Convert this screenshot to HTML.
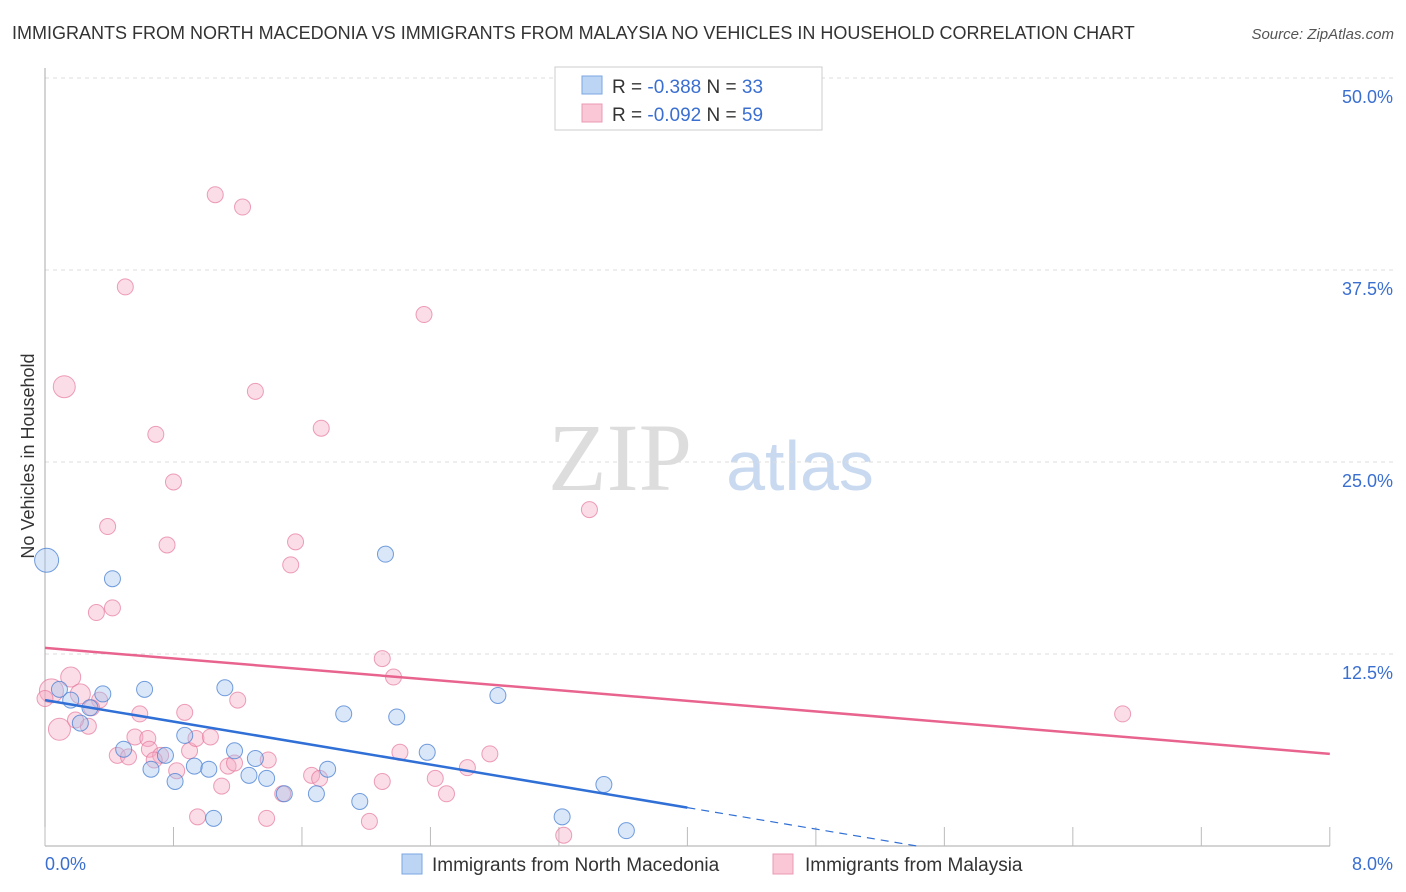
<!DOCTYPE html>
<html><head><meta charset="utf-8"><style>
body{margin:0;background:#fff;font-family:"Liberation Sans",sans-serif;}
svg{display:block}
</style></head><body>
<svg id="c" width="1406" height="892">
<text x="12" y="39" font-size="18" fill="#333">IMMIGRANTS FROM NORTH MACEDONIA VS IMMIGRANTS FROM MALAYSIA NO VEHICLES IN HOUSEHOLD CORRELATION CHART</text>
<text x="1394" y="39" font-size="15" fill="#555" font-style="italic" text-anchor="end">Source: ZipAtlas.com</text>
<text x="620" y="490" font-size="96" fill="#ddd" font-family="Liberation Serif,serif" text-anchor="middle">ZIP</text>
<text x="800" y="490" font-size="70" fill="#c9daf0" text-anchor="middle">atlas</text>
<text transform="translate(34,456) rotate(-90)" font-size="18" fill="#333" text-anchor="middle">No Vehicles in Household</text>
<g id="grid"></g><g id="pts"></g><g id="lines"></g>
<g>
<rect x="555" y="67" width="267" height="63" fill="#fff" stroke="#ccc"/>
<rect x="582" y="76" width="20" height="18" fill="#bcd5f5" stroke="#7aa6e0"/>
<rect x="582" y="104" width="20" height="18" fill="#f9c7d6" stroke="#eb9ab3"/>
<text x="612" y="93" font-size="19" fill="#333">R = <tspan fill="#3a6fd0">-0.388</tspan>   N = <tspan fill="#3a6fd0">33</tspan></text>
<text x="612" y="121" font-size="19" fill="#333">R = <tspan fill="#3a6fd0">-0.092</tspan>   N = <tspan fill="#3a6fd0">59</tspan></text>
</g>
<g>
<rect x="402" y="854" width="20" height="20" fill="#bcd5f5" stroke="#7aa6e0"/>
<text x="432" y="871" font-size="19" fill="#333">Immigrants from North Macedonia</text>
<rect x="773" y="854" width="20" height="20" fill="#f9c7d6" stroke="#eb9ab3"/>
<text x="805" y="871" font-size="19" fill="#333">Immigrants from Malaysia</text>
</g>
</svg>
<script>
const yTicks=[12.5,25,37.5,50];
const xLabels=["0.0%","8.0%"];
const blueX=[0.01,0.42,0.09,0.16,0.22,0.28,0.36,0.49,0.62,0.66,0.75,0.81,0.87,0.93,1.02,1.05,1.12,1.18,1.27,1.31,1.38,1.49,1.69,1.76,1.86,1.96,2.12,2.19,2.38,2.82,3.22,3.48,3.62];
const blueY=[18.6,17.4,10.2,9.5,8.0,9.0,9.9,6.3,10.2,5.0,5.9,4.2,7.2,5.2,5.0,1.8,10.3,6.2,4.6,5.7,4.4,3.4,3.4,5.0,8.6,2.9,19.0,8.4,6.1,9.8,1.9,4.0,1.0];
const blueR=[12,8,8,8,8,8,8,8,8,8,8,8,8,8,8,8,8,8,8,8,8,8,8,8,8,8,8,8,8,8,8,8,8];
const pinkX=[1.06,1.23,0.50,2.36,0.12,1.31,0.69,1.72,0.80,0.39,3.39,0.76,1.56,1.53,0.42,0.32,0.16,0.04,0.22,0.09,0.34,0.29,0.59,0.87,1.20,2.10,2.17,6.71,0.45,0.52,0.56,0.64,0.65,0.72,0.82,0.90,0.94,1.03,1.10,1.14,1.18,0.00,0.95,1.39,1.38,1.48,1.66,1.71,2.02,2.10,2.21,2.43,2.50,2.63,2.77,3.23,0.27,0.19,0.68];
const pinkY=[42.4,41.6,36.4,34.6,29.9,29.6,26.8,27.2,23.7,20.8,21.9,19.6,19.8,18.3,15.5,15.2,11.0,10.1,9.9,7.6,9.5,9.0,8.6,8.7,9.5,12.2,11.0,8.6,5.9,5.8,7.1,7.0,6.3,5.9,4.9,6.2,7.0,7.1,3.9,5.2,5.4,9.6,1.9,5.6,1.8,3.4,4.6,4.4,1.6,4.2,6.1,4.4,3.4,5.1,6.0,0.7,7.8,8.2,5.6];
const pinkR=[8,8,8,8,11,8,8,8,8,8,8,8,8,8,8,8,10,12,10,11,8,8,8,8,8,8,8,8,8,8,8,8,8,8,8,8,8,8,8,8,8,8,8,8,8,8,8,8,8,8,8,8,8,8,8,8,8,8,8];
const blueFit=[9.5,2.5]; // at x=0 and x=4.0
const pinkFit=[12.9,6.0]; // at x=0 and x=8.0
const NS="http://www.w3.org/2000/svg";
const X=v=>45+v*160.6, Y=v=>846-v*15.36;
function mk(t,a,p){const e=document.createElementNS(NS,t);for(const k in a)e.setAttribute(k,a[k]);p.appendChild(e);return e;}
const g=document.getElementById('grid');
for(const t of yTicks){
 const gl=mk('line',{x1:45,x2:1394,y1:Y(t),y2:Y(t),stroke:'#ddd','stroke-dasharray':'4,4'},g);
 
 
 const tx=mk('text',{x:1393,y:Y(t)+25,'font-size':18,fill:'#3a6fd0','text-anchor':'end'},g);tx.textContent=t.toFixed(1)+'%';
 
 
}
mk('line',{x1:45,x2:45,y1:68,y2:846,stroke:'#aaa'},g);
mk('line',{x1:45,x2:1330,y1:846,y2:846,stroke:'#aaa'},g);
for(let i=0;i<=10;i++){const tk=mk('line',{x1:X(i*0.8),x2:X(i*0.8),y1:827,y2:846,stroke:'#bbb'},g);
 
 }
const l0=mk('text',{x:45,y:870,'font-size':18,fill:'#3a6fd0'},g);l0.textContent=xLabels[0];


const l1=mk('text',{x:1393,y:870,'font-size':18,fill:'#3a6fd0','text-anchor':'end'},g);l1.textContent=xLabels[1];


const p=document.getElementById('pts');
pinkX.forEach((x,i)=>{const c=mk('circle',{cx:X(x),cy:Y(pinkY[i]),r:pinkR[i],fill:'rgba(246,170,195,0.4)',stroke:'rgba(230,120,155,0.7)','stroke-width':1},p);
 
 });
blueX.forEach((x,i)=>{const c=mk('circle',{cx:X(x),cy:Y(blueY[i]),r:blueR[i],fill:'rgba(160,195,240,0.4)',stroke:'rgba(70,125,210,0.75)','stroke-width':1},p);
 
 });
const L=document.getElementById('lines');
const bl=mk('line',{x1:X(0),y1:Y(blueFit[0]),x2:X(4),y2:Y(blueFit[1]),stroke:'#2f6fd6','stroke-width':2.5},L);


const slope=(blueFit[1]-blueFit[0])/4, xe=-blueFit[0]/slope;
const bd=mk('line',{x1:X(4),y1:Y(blueFit[1]),x2:X(xe),y2:Y(0),stroke:'#2f6fd6','stroke-width':1.2,'stroke-dasharray':'8,6'},L);


const pl=mk('line',{x1:X(0),y1:Y(pinkFit[0]),x2:X(8),y2:Y(pinkFit[1]),stroke:'#e8648f','stroke-width':2.5},L);


</script>
</body></html>
